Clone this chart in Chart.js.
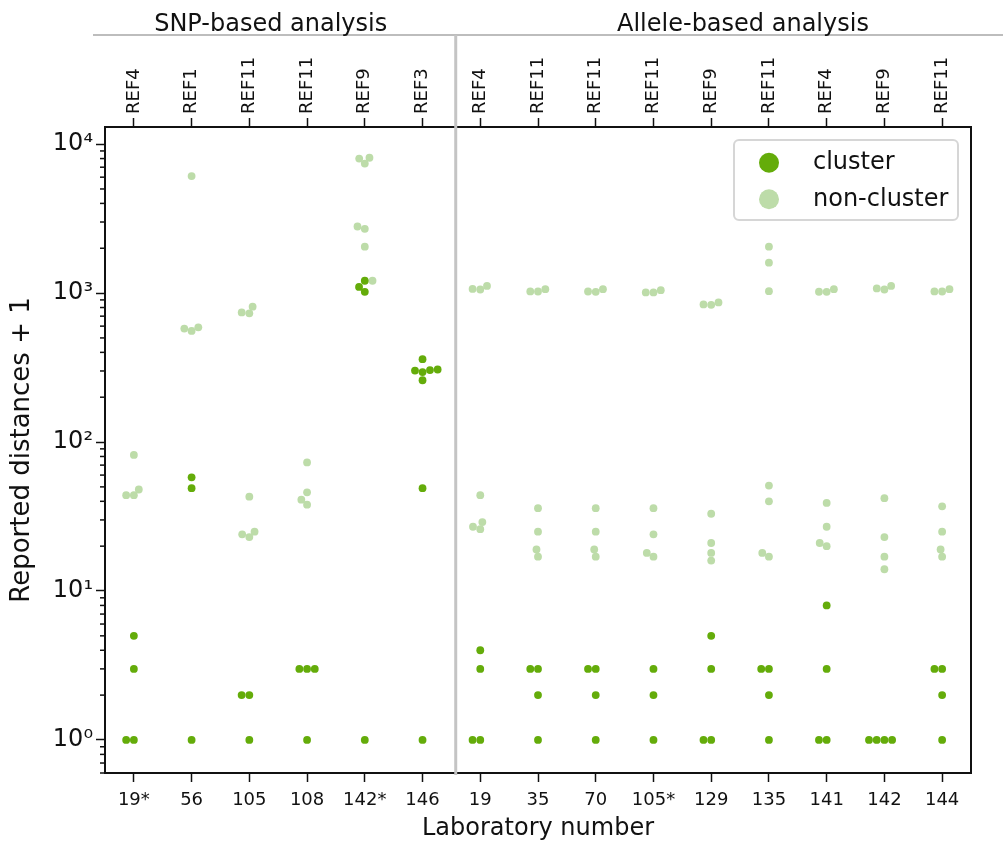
<!DOCTYPE html>
<html lang="en">
<head>
<meta charset="UTF-8">
<title>Reported distances per laboratory</title>
<script src="https://cdn.jsdelivr.net/npm/chart.js"></script>
<style>
    html, body { margin: 0; padding: 0; background: #fff; }
    #wrap { width: 1003px; height: 843px; position: relative; }
</style>
</head>
<body>
<div id="wrap"><canvas id="swarmChart"></canvas></div>
<script>
// laboratories (bottom axis) and the reference used (top axis)
const labs = ['19*', '56', '105', '108', '142*', '146', '19', '35', '70', '105*', '129', '135', '141', '142', '144'];
const refs = ['REF4', 'REF1', 'REF11', 'REF11', 'REF9', 'REF3', 'REF4', 'REF11', 'REF11', 'REF11', 'REF9', 'REF11', 'REF4', 'REF9', 'REF11'];
const groupNames = ['SNP-based analysis', 'Allele-based analysis'];

// reported distances + 1, one list per laboratory
const clusterValues = [
    [1, 1, 3, 5],
    [1, 49, 58],
    [1, 2, 2],
    [1, 3, 3, 3],
    [1, 1020, 1100, 1210],
    [1, 49, 260, 295, 302, 304, 307, 360],
    [1, 1, 3, 4],
    [1, 2, 3, 3],
    [1, 2, 3, 3],
    [1, 2, 3],
    [1, 1, 3, 5],
    [1, 2, 3, 3],
    [1, 1, 3, 8],
    [1, 1, 1, 1],
    [1, 2, 3, 3]
];
const nonClusterValues = [
    [44, 44, 48, 82],
    [557, 578, 589, 6100],
    [23, 24, 25, 43, 731, 742, 810],
    [38, 41, 46, 73],
    [1210, 2050, 2700, 2800, 7400, 8000, 8100],
    [],
    [26, 27, 29, 44, 1057, 1067, 1117],
    [17, 19, 25, 36, 1025, 1026, 1062],
    [17, 19, 25, 36, 1020, 1025, 1062],
    [17, 18, 24, 36, 1010, 1011, 1046],
    [16, 18, 21, 33, 834, 839, 865],
    [17, 18, 40, 51, 1030, 1600, 2050],
    [20, 21, 27, 39, 1020, 1021, 1062],
    [14, 17, 23, 42, 1057, 1075, 1117],
    [17, 19, 25, 37, 1025, 1026, 1062]
];
const yMajorTicks = [1, 10, 100, 1000, 10000];
const supDigits = ['\u2070', '\u00b9', '\u00b2', '\u00b3', '\u2074'];

const DARK = '#64ac0a';
const LIGHT = '#bddca9';
const FONT = 'DejaVu Sans';
const DOT_R = 3.9;
const SWARM_R = 3.67;

// seaborn-like beeswarm: points sorted by value, each one put as close to the
// category centre as it can go without touching the ones already placed
function swarmOffsets(us, r) {
    const placed = [];
    const sep = 2 * r;
    us.forEach((u, n) => {
        if (n === 0) { placed.push({ x: 0, u }); return; }
        const nb = [];
        for (let j = placed.length - 1; j >= 0; j--) {
            if (u - placed[j].u < sep) nb.push(placed[j]);
            else break;
        }
        const cand = [0];
        nb.forEach(q => {
            const dy = u - q.u;
            const dx = Math.sqrt(Math.max(sep * sep - dy * dy, 0)) * 1.05;
            cand.push(q.x - dx, q.x + dx);
        });
        cand.sort((a, b) => {
            const d = Math.abs(a) - Math.abs(b);
            return Math.abs(d) > 1e-6 ? d : a - b;
        });
        const x = cand.find(c => nb.every(q => (q.x - c) ** 2 + (q.u - u) ** 2 >= sep * sep - 1e-6));
        placed.push({ x: x === undefined ? 0 : x, u });
    });
    return placed.map(p => p.x);
}

function applySwarm(chart) {
    const xs = chart.scales.x, ys = chart.scales.y;
    const unit = xs.getPixelForValue(1) - xs.getPixelForValue(0);
    const dark = [], light = [];
    labs.forEach((_, i) => {
        const pts = clusterValues[i].map(v => ({ v, set: dark }))
            .concat(nonClusterValues[i].map(v => ({ v, set: light })));
        pts.sort((a, b) => a.v - b.v);
        const offs = swarmOffsets(pts.map(p => -ys.getPixelForValue(p.v)), SWARM_R);
        pts.forEach((p, k) => p.set.push({ x: i + offs[k] / unit, y: p.v }));
    });
    chart.data.datasets[0].data = dark;
    chart.data.datasets[1].data = light;
}

const decor = {
    id: 'decor',
    afterDraw(chart) {
        const { ctx, chartArea: a, scales: { x, y } } = chart;
        ctx.save();

        // minor ticks on the log axis
        ctx.strokeStyle = '#111';
        ctx.lineWidth = 1.5;
        for (let d = -1; d < 5; d++) {
            for (let m = 2; m < 10; m++) {
                const v = m * Math.pow(10, d);
                if (v < y.min || v > y.max) continue;
                const py = y.getPixelForValue(v);
                ctx.beginPath();
                ctx.moveTo(a.left - 5, py);
                ctx.lineTo(a.left, py);
                ctx.stroke();
            }
        }

        // group headers
        const sepX = x.getPixelForValue(5.575);
        ctx.strokeStyle = '#bdbdbd';
        ctx.lineWidth = 2;
        ctx.beginPath();
        ctx.moveTo(a.left - 12, 35);
        ctx.lineTo(chart.width, 35);
        ctx.stroke();
        ctx.lineWidth = 3;
        ctx.strokeStyle = '#c4c4c4';
        ctx.beginPath();
        ctx.moveTo(sepX, 35);
        ctx.lineTo(sepX, a.bottom + 2);
        ctx.stroke();

        ctx.fillStyle = '#111';
        ctx.font = '24px "' + FONT + '"';
        ctx.textAlign = 'center';
        ctx.textBaseline = 'alphabetic';
        ctx.fillText(groupNames[0], x.getPixelForValue(2.37), 31);
        ctx.fillText(groupNames[1], x.getPixelForValue(10.55), 31);

        // legend
        const bw = 224, bh = 80;
        const bx = a.right - 13 - bw, by = a.top + 13;
        ctx.beginPath();
        ctx.roundRect(bx, by, bw, bh, 5);
        ctx.fillStyle = 'rgba(255,255,255,0.8)';
        ctx.fill();
        ctx.strokeStyle = '#d6d6d6';
        ctx.lineWidth = 2;
        ctx.stroke();
        const items = chart.data.datasets;
        items.forEach((ds, k) => {
            const cy = by + 22.7 + k * 36.6;
            ctx.beginPath();
            ctx.arc(bx + 35, cy, 10, 0, Math.PI * 2);
            ctx.fillStyle = ds.backgroundColor;
            ctx.fill();
            ctx.fillStyle = '#111';
            ctx.textAlign = 'left';
            ctx.textBaseline = 'middle';
            ctx.fillText(ds.label, bx + 79, cy);
        });
        ctx.restore();
    }
};

const tickFont = { family: FONT, size: 18 };
const frame = { display: true, color: '#111', width: 2 };

const chart = new Chart(document.getElementById('swarmChart'), {
    type: 'scatter',
    data: {
        datasets: [
            { label: 'cluster', data: [], backgroundColor: DARK, pointRadius: DOT_R, pointHoverRadius: DOT_R, pointBorderWidth: 0 },
            { label: 'non-cluster', data: [], backgroundColor: LIGHT, pointRadius: DOT_R, pointHoverRadius: DOT_R, pointBorderWidth: 0 }
        ]
    },
    options: {
        responsive: true,
        maintainAspectRatio: false,
        animation: false,
        devicePixelRatio: 1,
        events: [],
        layout: { padding: { left: 0, right: 32, top: 0, bottom: 0 } },
        plugins: { legend: { display: false }, tooltip: { enabled: false } },
        scales: {
            x: {
                type: 'linear', position: 'bottom', min: -0.5, max: 14.5,
                afterBuildTicks: s => { s.ticks = labs.map((_, i) => ({ value: i })); },
                afterFit: s => { s.height = 70; },
                ticks: { font: tickFont, color: '#111', padding: 8, maxRotation: 0, autoSkip: false,
                    callback: (v, i) => labs[i] },
                grid: { drawOnChartArea: false, tickLength: 9, tickColor: '#111', tickWidth: 1.5 },
                border: frame,
                title: { display: true, text: 'Laboratory number', color: '#111',
                    font: { family: FONT, size: 24 }, padding: 0 }
            },
            x2: {
                type: 'linear', position: 'top', min: -0.5, max: 14.5,
                afterBuildTicks: s => { s.ticks = refs.map((_, i) => ({ value: i })); },
                afterFit: s => { s.height = 127; },
                ticks: { font: tickFont, color: '#111', padding: 4, labelOffset: 21.6,
                    minRotation: 90, maxRotation: 90, autoSkip: false,
                    callback: (v, i) => refs[i] },
                grid: { drawOnChartArea: false, tickLength: 9, tickColor: '#111', tickWidth: 1.5 },
                border: frame
            },
            y: {
                type: 'logarithmic', position: 'left', min: Math.pow(10, -0.2), max: Math.pow(10, 4.115),
                afterBuildTicks: s => { s.ticks = yMajorTicks.map(v => ({ value: v, major: true })); },
                afterFit: s => { s.width = 105; },
                ticks: { font: { family: FONT, size: 24 }, color: '#111', padding: 3,
                    callback: v => '10' + supDigits[Math.round(Math.log10(v))] },
                grid: { drawOnChartArea: false, tickLength: 9, tickColor: '#111', tickWidth: 1.5 },
                border: frame,
                title: { display: true, text: 'Reported distances + 1', color: '#111',
                    font: { family: FONT, size: 26 }, padding: { top: 7, bottom: 0 } }
            },
            y2: {
                type: 'logarithmic', position: 'right', min: Math.pow(10, -0.2), max: Math.pow(10, 4.115),
                afterFit: s => { s.width = 0; },
                ticks: { display: false },
                grid: { drawOnChartArea: false, drawTicks: false },
                border: frame
            }
        }
    },
    plugins: [decor]
});

applySwarm(chart);
chart.update('none');
</script>
</body>
</html>
